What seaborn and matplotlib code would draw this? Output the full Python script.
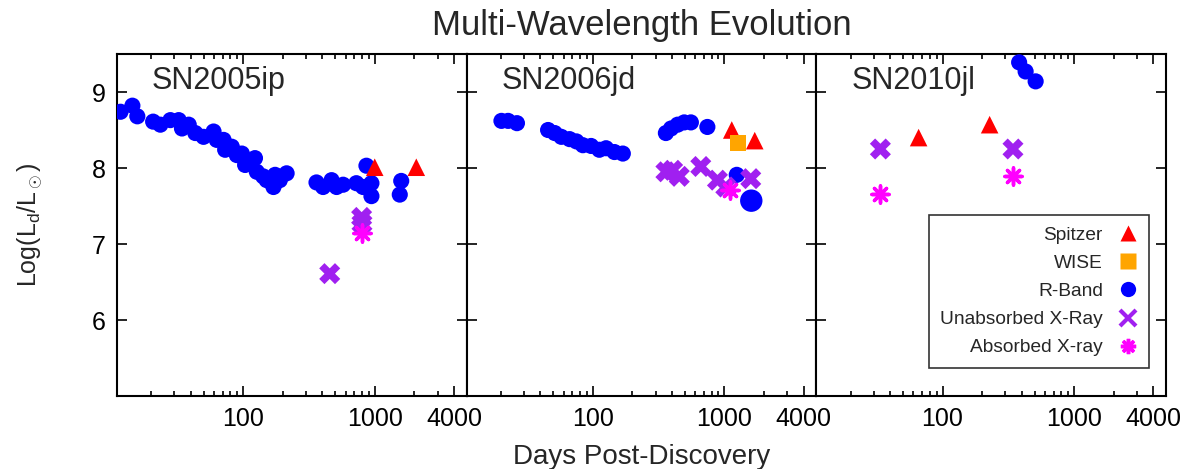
import matplotlib
matplotlib.use("Agg")
import matplotlib.pyplot as plt
from matplotlib.lines import Line2D
from matplotlib.ticker import LogLocator, NullFormatter
import seaborn as sns

# SN2005ip
ip_rband_days = [11.7, 14.4, 15.7, 20.7, 23.5, 28, 32.4, 34.3, 38.6, 43.3, 50, 59.6, 63, 71, 73,
                 82, 89.5, 97.8, 103.5, 123, 127, 142, 151, 170, 175, 190, 214,
                 361, 405, 470, 513, 575, 725, 815, 865, 944, 944, 1590, 1550]
ip_rband_lum = [8.74, 8.82, 8.68, 8.61, 8.57, 8.63, 8.63, 8.52, 8.57, 8.46, 8.41, 8.48, 8.37, 8.37, 8.24,
                8.28, 8.17, 8.19, 8.04, 8.13, 7.95, 7.89, 7.84, 7.75, 7.91, 7.84, 7.93,
                7.81, 7.75, 7.84, 7.75, 7.78, 7.80, 7.75, 8.03, 7.80, 7.63, 7.83, 7.65]
ip_spitzer_days = [1000, 2070]
ip_spitzer_lum = [8.01, 8.01]
ip_unabs_days = [795, 800, 455]
ip_unabs_lum = [7.35, 7.27, 6.61]
ip_abs_days = [795]
ip_abs_lum = [7.14]

# SN2006jd
jd_rband_days = [20.2, 22.7, 26.5, 45.7, 51.3, 57.6, 66.6, 75, 84, 97, 112, 126, 146, 169,
                 359, 393, 441, 495, 556, 742, 1241]
jd_rband_lum = [8.62, 8.62, 8.59, 8.50, 8.46, 8.41, 8.38, 8.35, 8.30, 8.29, 8.24, 8.26, 8.21, 8.19,
                8.46, 8.52, 8.57, 8.60, 8.60, 8.54, 7.91]
jd_rband_big_days = [1600]
jd_rband_big_lum = [7.57]
jd_spitzer_days = [1137, 1700]
jd_spitzer_lum = [8.50, 8.36]
jd_wise_days = [1276]
jd_wise_lum = [8.33]
jd_unabs_days = [359, 404, 454, 661, 885, 1024, 1585]
jd_unabs_lum = [7.95, 7.97, 7.89, 8.02, 7.84, 7.75, 7.86]
jd_abs_days = [1097]
jd_abs_lum = [7.71]

# SN2010jl
jl_rband_days = [382, 428, 510]
jl_rband_lum = [9.39, 9.27, 9.14]
jl_spitzer_days = [65.8, 228]
jl_spitzer_lum = [8.40, 8.57]
jl_unabs_days = [33.7, 343]
jl_unabs_lum = [8.25, 8.25]
jl_abs_days = [33.7, 343]
jl_abs_lum = [7.66, 7.89]

panel_names = ["SN2005ip", "SN2006jd", "SN2010jl"]
xtick_vals = [100, 1000, 4000]
xtick_labels = ["100", "1000", "4000"]
ytick_vals = [6, 7, 8, 9]

RED = "#FF0000"
ORANGE = "#FFA500"
BLUE = "#0000FF"
PURPLE = "#A020F0"
MAGENTA = "#FF00FF"
ASTER = (8, 2, 0)

sns.set_style("ticks")
plt.rcParams["font.family"] = ["Liberation Sans", "DejaVu Sans"]
plt.rcParams["mathtext.fontset"] = "custom"
plt.rcParams["mathtext.rm"] = "Liberation Sans"
plt.rcParams["mathtext.it"] = "Liberation Sans:italic"

fig = plt.figure(figsize=(11.91, 4.69), dpi=100)
left, bottom, w, h = 117 / 1191, 73 / 469, 349.7 / 1191, 342 / 469
axes = [fig.add_axes([left + i * w, bottom, w, h]) for i in range(3)]

panels = [
    dict(rband=(ip_rband_days, ip_rband_lum), spitzer=(ip_spitzer_days, ip_spitzer_lum),
         unabs=(ip_unabs_days, ip_unabs_lum), absx=(ip_abs_days, ip_abs_lum)),
    dict(rband=(jd_rband_days, jd_rband_lum), big=(jd_rband_big_days, jd_rband_big_lum),
         spitzer=(jd_spitzer_days, jd_spitzer_lum), wise=(jd_wise_days, jd_wise_lum),
         unabs=(jd_unabs_days, jd_unabs_lum), absx=(jd_abs_days, jd_abs_lum)),
    dict(rband=(jl_rband_days, jl_rband_lum), spitzer=(jl_spitzer_days, jl_spitzer_lum),
         unabs=(jl_unabs_days, jl_unabs_lum), absx=(jl_abs_days, jl_abs_lum)),
]

for i, (ax, p) in enumerate(zip(axes, panels)):
    sns.scatterplot(x=p["rband"][0], y=p["rband"][1], ax=ax, marker="o", s=135,
                    color=BLUE, edgecolor="none", zorder=3)
    if "big" in p:
        sns.scatterplot(x=p["big"][0], y=p["big"][1], ax=ax, marker="o", s=260,
                        color=BLUE, edgecolor="none", zorder=3)
    sns.scatterplot(x=p["spitzer"][0], y=p["spitzer"][1], ax=ax, marker="^", s=160,
                    color=RED, edgecolor="none", zorder=4)
    if "wise" in p:
        sns.scatterplot(x=p["wise"][0], y=p["wise"][1], ax=ax, marker="s", s=130,
                        color=ORANGE, edgecolor="none", zorder=4)
    sns.scatterplot(x=p["unabs"][0], y=p["unabs"][1], ax=ax, marker="X", s=230,
                    color=PURPLE, edgecolor="none", zorder=4)
    ax.scatter(p["absx"][0], p["absx"][1], marker=ASTER, s=150, color=MAGENTA,
               linewidths=2.5, zorder=5)

    ax.set_xscale("log")
    ax.set_xlim(11, 5000)
    ax.set_ylim(5, 9.5)
    ax.set_xticks(xtick_vals, xtick_labels)
    ax.xaxis.set_minor_locator(LogLocator(base=10, subs=range(2, 10), numticks=20))
    ax.xaxis.set_minor_formatter(NullFormatter())
    ax.set_yticks(ytick_vals)
    ax.tick_params(which="both", direction="in", top=True, right=True, width=1.2,
                   labelsize=18, colors="black")
    ax.tick_params(which="major", length=7, pad=8)
    ax.tick_params(which="minor", length=3.5)
    if i > 0:
        ax.tick_params(labelleft=False)
    for sp in ax.spines.values():
        sp.set_linewidth(1.5)
        sp.set_color("black")
    ax.text(0.10, 0.921, panel_names[i], transform=ax.transAxes, ha="left", va="center",
            fontsize=22)

axes[0].set_ylabel(r"Log(L$_\mathrm{d}$/L$_\odot$)", fontsize=18, labelpad=34)
axes[1].set_xlabel("Days Post-Discovery", fontsize=20, labelpad=9)
axes[1].set_title("Multi-Wavelength Evolution", fontsize=25, pad=14)

handles = [
    Line2D([], [], ls="none", marker="^", ms=11, color=RED, mec="none"),
    Line2D([], [], ls="none", marker="s", ms=11, color=ORANGE, mec="none"),
    Line2D([], [], ls="none", marker="o", ms=11, color=BLUE, mec="none"),
    Line2D([], [], ls="none", marker="x", ms=11, color=PURPLE, mew=3),
    Line2D([], [], ls="none", marker=ASTER, ms=11, color=MAGENTA, mew=2.5),
]
labels = ["Spitzer", "WISE", "R-Band", "Unabsorbed X-Ray", "Absorbed X-ray"]
leg = axes[2].legend(handles, labels, loc="lower right", bbox_to_anchor=(0.951, 0.082),
                     borderaxespad=0, markerfirst=False, fontsize=13.8, frameon=True,
                     fancybox=False, edgecolor="black", handlelength=1.0,
                     handletextpad=0.8, labelspacing=0.56, borderpad=0.6)
leg.get_frame().set_linewidth(1.2)

fig.savefig("out.png", dpi=100)
